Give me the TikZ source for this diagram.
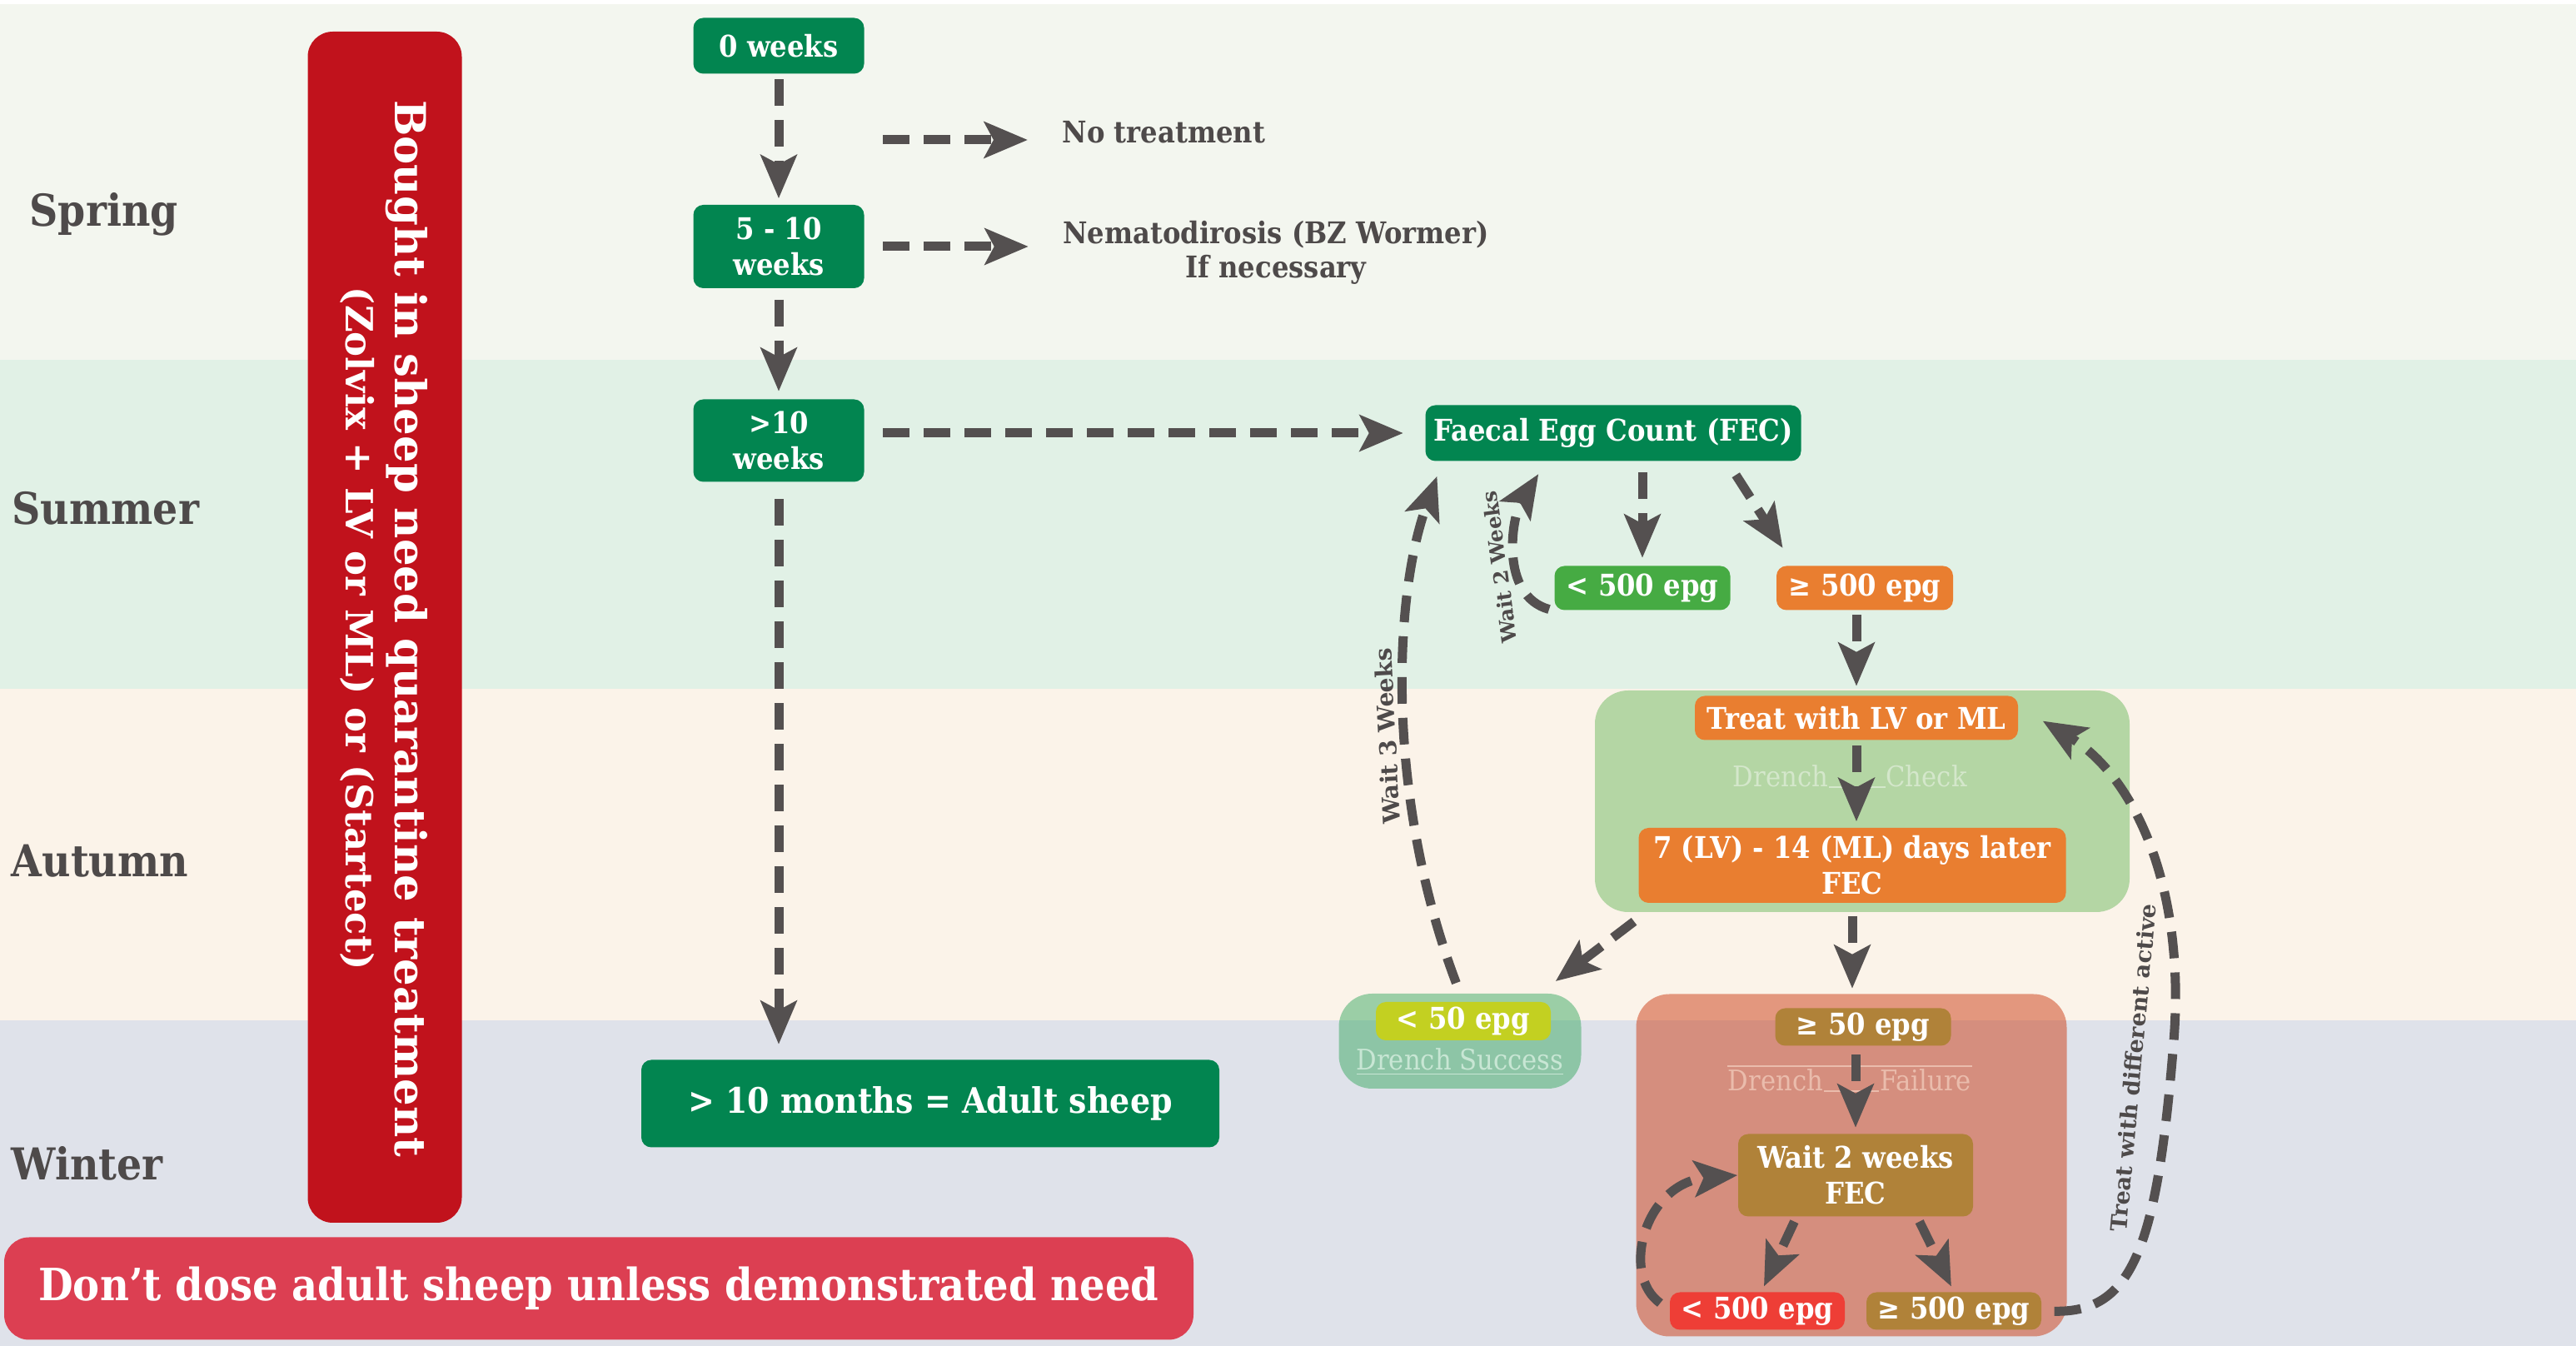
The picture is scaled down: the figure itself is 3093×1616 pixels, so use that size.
\documentclass[tikz,border=0pt]{standalone}
\usepackage{fontspec}
\usepackage{tikz}
\usepackage{xcolor}
\usetikzlibrary{arrows.meta,calc,positioning}
\setmainfont{DejaVu Serif}
\newfontfamily\slabfont{DejaVu Serif}[FakeStretch=0.9]
\newfontfamily\wideslabfont{DejaVu Serif}

\definecolor{springbg}{RGB}{243,246,239}
\definecolor{summerbg}{RGB}{225,241,230}
\definecolor{autumnbg}{RGB}{251,243,233}
\definecolor{winterbg}{RGB}{223,226,234}
\definecolor{agegreen}{RGB}{2,133,80}
\definecolor{quarred}{RGB}{193,18,28}
\definecolor{bannerred}{RGB}{220,63,82}
\definecolor{arrowgray}{RGB}{84,80,80}
\definecolor{labelgray}{RGB}{78,74,74}
\definecolor{lowgreen}{RGB}{70,171,67}
\definecolor{highorange}{RGB}{233,126,48}
\definecolor{checkgreen}{RGB}{180,214,164}
\definecolor{successteal}{RGB}{60,170,100}
\definecolor{limegreen}{RGB}{195,208,33}
\definecolor{failsalmon}{RGB}{205,60,20}
\definecolor{ochre}{RGB}{176,130,57}
\definecolor{alarmred}{RGB}{238,62,54}
\definecolor{checkfaint}{RGB}{212,231,203}
\definecolor{failfaint}{RGB}{234,188,172}
\definecolor{successfaint}{RGB}{200,230,212}

\tikzset{
    season/.style = {anchor=base west, inner sep=0pt, text=labelgray, font=\slabfont\bfseries\fontsize{15}{18}\selectfont},
    tag/.style = {rounded corners=1.2mm, text=white, align=center, inner sep=0pt, font=\slabfont\bfseries\fontsize{10.2}{12.2}\selectfont},
    age-box/.style = {tag, fill=agegreen, minimum width=20.5mm},
    epg-box/.style = {tag, minimum width=21mm, minimum height=4.6mm},
    stage-box/.style = {rounded corners=4mm, inner sep=0pt},
    faint-label/.style = {inner sep=0pt, font=\slabfont\fontsize{9.7}{11}\selectfont},
    note/.style = {inner sep=0pt, text=labelgray, align=center, font=\slabfont\bfseries\fontsize{10.2}{11.7}\selectfont},
    flow/.style = {draw=arrowgray, line width=1.1mm, dash pattern=on 3.2mm off 1.7mm, -{Stealth[length=5.2mm, width=4.3mm, inset=1.1mm]}, shorten <=0.6mm, shorten >=0.7mm},
    curve-label/.style = {sloped, allow upside down, above, inner sep=0.6mm, text=labelgray, font=\wideslabfont\bfseries\fontsize{8}{9}\selectfont},
}

\begin{document}
\begin{tikzpicture}[x=0.1mm, y=-0.1mm]
\useasboundingbox (0,0) rectangle (3093,1616);

% season bands
\fill[white] (0,0) rectangle (3093,1616);
\fill[springbg] (0,5) rectangle (3093,432);
\fill[summerbg] (0,432) rectangle (3093,827);
\fill[autumnbg] (0,827) rectangle (3093,1225);
\fill[winterbg] (0,1225) rectangle (3093,1616);

\node[season] (spring) at (35,272) {Spring};
\node[season] (summer) at (14,630) {Summer};
\node[season] (autumn) at (13,1053) {Autumn};
\node[season] (winter) at (13,1417) {Winter};

% quarantine column and advice banner
\node[fill=quarred, rounded corners=3mm, minimum width=18.5mm, minimum height=143mm] (quarantine) at (462,753) {};
\node[rotate=-90, anchor=base, inner sep=0pt, text=white, font=\wideslabfont\bfseries\fontsize{14.6}{18}\selectfont] (bought) at ($(quarantine.center)+(12,2)$) {Bought in sheep need quarantine treatment};
\node[rotate=-90, anchor=base, inner sep=0pt, text=white, font=\wideslabfont\bfseries\fontsize{12.8}{15}\selectfont] (drugs) at ($(quarantine.center)+(-47,2)$) {(Zolvix + LV or ML) or (Startect)};
\node[fill=bannerred, rounded corners=3mm, minimum width=142.8mm, minimum height=12.3mm, inner sep=0pt, text=white, font=\slabfont\bfseries\fontsize{15.2}{17}\selectfont] (advice) at (719,1547) {Don’t dose adult sheep unless demonstrated need};

% lamb ages
\node[age-box, minimum height=6.7mm] (w0) at (935,55) {0 weeks};
\node[age-box, minimum height=10mm] (w5) at (935,296) {5 - 10\\weeks};
\node[age-box, minimum height=9.9mm] (w10) at (935,529) {>10\\weeks};
\node[age-box, minimum width=69.4mm, minimum height=10.5mm, font=\slabfont\bfseries\fontsize{12}{14}\selectfont] (adult) at (1117,1325) {> 10 months = Adult sheep};

\node[note, anchor=base west] (notreat) at (1275,172) {No treatment};
\node[note] (nemat) at (1532,303) {Nematodirosis (BZ Wormer)\\If necessary};

% egg counts
\node[age-box, minimum width=45.1mm, minimum height=6.7mm] (fec) at (1937,520) {Faecal Egg Count (FEC)};
\node[epg-box, fill=lowgreen, minimum width=21.1mm, minimum height=5.3mm] (lt500a) at (1972,706) {< 500 epg};
\node[epg-box, fill=highorange, minimum width=21.2mm, minimum height=5.3mm] (ge500a) at (2239,706) {≥ 500 epg};

\node[stage-box, fill=checkgreen, minimum width=64.2mm, minimum height=26.6mm] (check) at (2236,962) {};
\node[epg-box, fill=highorange, minimum width=38.8mm, minimum height=5.3mm] (treat) at (2229,862) {Treat with LV or ML};
\node[epg-box, fill=highorange, minimum width=51.3mm, minimum height=9mm] (days) at (2224,1039) {7 (LV) - 14 (ML) days later\\FEC};
\node[faint-label, text=checkfaint] (drenchA) at (2138,932) {Drench};
\node[faint-label, text=checkfaint] (checkA) at (2313,932) {Check};
\draw[checkfaint, line width=0.2mm] (drenchA.base east) -- (checkA.base west);

\node[stage-box, fill=successteal, fill opacity=0.5, minimum width=29.1mm, minimum height=11.4mm] (success) at (1753,1250) {};
\node[epg-box, fill=limegreen] (lt50) at (1757,1226) {< 50 epg};
\node[faint-label, text=successfaint] (successtext) at (1753,1275) {\underline{Drench Success}};

\node[stage-box, fill=failsalmon, fill opacity=0.5, minimum width=51.7mm, minimum height=41.1mm] (failure) at (2223,1399) {};
\node[epg-box, fill=ochre, minimum width=21.1mm, minimum height=4.5mm] (ge50) at (2237,1233) {≥ 50 epg};
\node[faint-label, text=failfaint] (drenchB) at (2132,1297) {Drench};
\node[faint-label, text=failfaint] (failB) at (2312,1297) {Failure};
\draw[failfaint, line width=0.2mm] ($(drenchB.north west)+(0,-3)$) -- ($(failB.north east)+(0,-3)$);
\draw[failfaint, line width=0.2mm] (drenchB.base east) -- (failB.base west);
\node[epg-box, fill=ochre, minimum width=28.2mm, minimum height=9.9mm] (wait2) at (2228,1411) {Wait 2 weeks\\FEC};
\node[epg-box, fill=alarmred, minimum height=4.5mm] (lt500b) at (2110,1574) {< 500 epg};
\node[epg-box, fill=ochre, minimum height=4.5mm] (ge500b) at (2346,1574) {≥ 500 epg};

% connectors
\draw[flow] (w0) -- (w5);
\draw[flow, shorten <=1.3mm, shorten >=0.9mm] (w5) -- (w10);
\draw[flow, shorten <=2mm, shorten >=1.8mm] (w10) -- (w10 |- adult.north);
\draw[flow, shorten <=0mm, shorten >=4.1mm] ($(w5.east |- notreat.base west)+(22,-4)$) -- ($(notreat.base west)+(0,-4)$);
\draw[flow, shorten <=2.2mm, shorten >=4.1mm] (w5.east) -- (w5.east -| nemat.west);
\draw[flow, shorten <=2.2mm, shorten >=2.6mm] (w10.east |- fec.west) -- (fec.west);

\draw[flow, shorten <=1.3mm, shorten >=0.9mm] (fec.south -| lt500a) -- (lt500a);
\draw[flow] ($(fec.south)+(144,11)$) -- ($(ge500a.north west)+(12,-15)$);
\draw[flow, shorten <=0.5mm, shorten >=1.1mm] (ge500a.south -| treat) -- (treat);
\draw[flow] (treat) -- (treat |- days.north);
\draw[flow, shorten <=0.4mm, shorten >=0.6mm] (days |- check.south) -- (days |- failure.north);
\draw[flow] ($(days.south west |- check.south)+(0,7)$) -- ($(success.north east)+(-37,-10)$);

\draw[flow, shorten <=1.3mm] (success.north) .. controls (1665,960) and (1672,720) .. ($(fec.south west)+(17,11)$) node[curve-label, pos=0.45] {Wait 3 Weeks};
\draw[flow] (lt500a.south west) .. controls (1800,715) and (1815,620) .. ($(fec.south)+(-86,9)$) node[curve-label, pos=0.42, font=\wideslabfont\bfseries\fontsize{7}{8}\selectfont] {Wait 2 Weeks};

\draw[flow, shorten <=1mm] (ge50.south -| wait2) -- (wait2);
\draw[flow] ($(wait2.south)+(-71,0)$) -- ($(lt500b.north)+(5,0)$);
\draw[flow] ($(wait2.south)+(74,0)$) -- (ge500b.north);
\draw[flow, shorten >=0mm] ($(lt500b.west)+(-6,-6)$) .. controls (1945,1530) and (1975,1420) .. (wait2.west);
\draw[flow, shorten <=1.5mm] (ge500b.east) .. controls (2560,1576) and (2590,1500) .. (2610,1250) node[curve-label, pos=0.95, above=2.4mm, font=\wideslabfont\bfseries\fontsize{7.7}{9}\selectfont] {Treat with different active} .. controls (2625,1060) and (2560,930) .. ($(treat.east)+(23,0)$);
\end{tikzpicture}
\end{document}
